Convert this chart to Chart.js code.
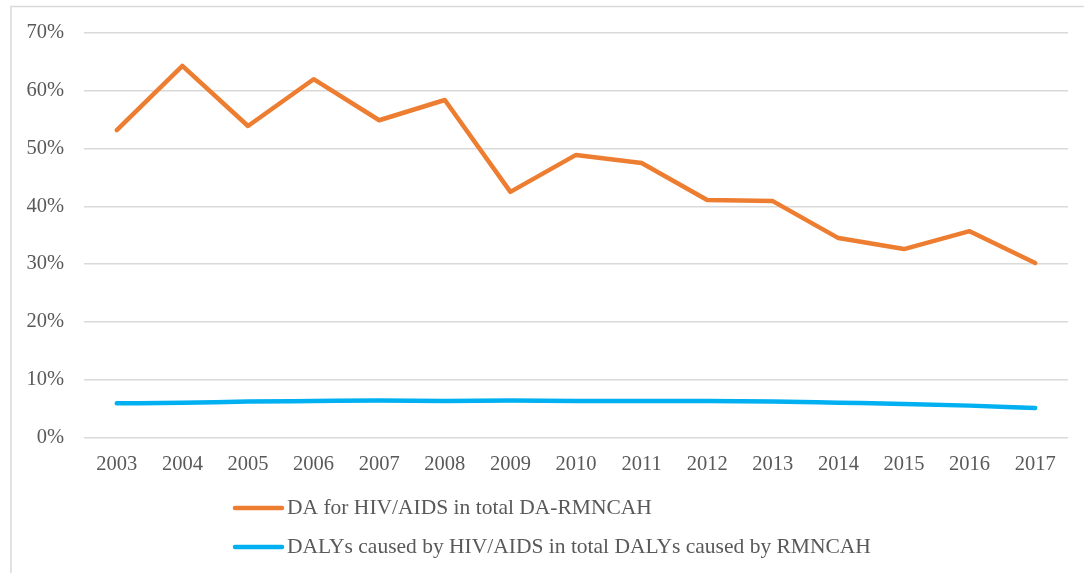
<!DOCTYPE html>
<html>
<head>
<meta charset="utf-8">
<style>
  html, body { margin: 0; padding: 0; background: #fff; }
  #wrap { width: 1084px; height: 573px; }
</style>
</head>
<body>
<div id="wrap"><canvas id="myChart" width="1084" height="573"></canvas></div>
<script src="https://cdn.jsdelivr.net/npm/chart.js@4.4.1/dist/chart.umd.min.js"></script>
<script>
    // years on the x axis
    const years = ['2003', '2004', '2005', '2006', '2007', '2008', '2009', '2010',
                   '2011', '2012', '2013', '2014', '2015', '2016', '2017']
    // share of DA for HIV/AIDS in total DA-RMNCAH (%)
    const daShare = [53.2, 64.3, 53.9, 62.0, 54.9, 58.4, 42.5, 48.9,
                     47.5, 41.1, 40.9, 34.5, 32.6, 35.7, 30.2]
    // share of DALYs caused by HIV/AIDS in total RMNCAH DALYs (%)
    const dalyShare = [5.9, 6.0, 6.2, 6.3, 6.4, 6.3, 6.4, 6.3,
                       6.3, 6.3, 6.2, 6.0, 5.8, 5.5, 5.1]
    const seriesNames = ['DA for HIV/AIDS in total DA-RMNCAH',
                         'DALYs caused by HIV/AIDS in total DALYs caused by RMNCAH']
    const yTicks = [0, 10, 20, 30, 40, 50, 60, 70]

    const textColor = '#595959'
    const fontFamily = '"Liberation Serif", "Times New Roman", serif'

    // light grey frame around the chart, like the spreadsheet export
    const framePlugin = {
        id: 'frame',
        beforeDraw(chart) {
            const c = chart.ctx
            c.save()
            c.strokeStyle = '#d9d9d9'
            c.lineWidth = 1.5
            c.strokeRect(11, 6.5, chart.width + 20, chart.height + 20)
            c.restore()
        }
    }

    // legend stacked vertically under the axis
    const stackedLegend = {
        id: 'stackedLegend',
        afterDraw(chart) {
            const c = chart.ctx
            c.save()
            c.font = '21.5px ' + fontFamily
            c.textBaseline = 'middle'
            c.textAlign = 'left'
            chart.data.datasets.forEach((ds, i) => {
                const y = 508 + i * 39
                c.strokeStyle = ds.borderColor
                c.lineWidth = 4.5
                c.lineCap = 'round'
                c.beginPath()
                c.moveTo(235, y)
                c.lineTo(282, y)
                c.stroke()
                c.fillStyle = textColor
                c.fillText(ds.label, 287, y)
            })
            c.restore()
        }
    }

    const ctx = document.getElementById('myChart')
    const myChart = new Chart(ctx, {
        type: 'line',
        data: {
            labels: years,
            datasets: [{
                label: seriesNames[0],
                data: daShare,
                borderColor: '#ED7D31',
                borderWidth: 4.5,
                borderCapStyle: 'round',
                borderJoinStyle: 'round',
                pointRadius: 0,
                tension: 0
            }, {
                label: seriesNames[1],
                data: dalyShare,
                borderColor: '#00B0F0',
                borderWidth: 4.5,
                borderCapStyle: 'round',
                pointRadius: 0,
                cubicInterpolationMode: 'monotone'
            }]
        },
        options: {
            responsive: false,
            animation: false,
            layout: {
                padding: { top: 33, right: 16, bottom: 89, left: 10 }
            },
            plugins: {
                legend: { display: false },
                tooltip: { enabled: false }
            },
            scales: {
                x: {
                    offset: true,
                    grid: { display: false },
                    border: { display: false },
                    ticks: {
                        color: textColor,
                        font: { family: fontFamily, size: 20.5 },
                        padding: 7,
                        maxRotation: 0
                    }
                },
                y: {
                    min: 0,
                    max: 70,
                    afterBuildTicks(scale) {
                        scale.ticks = yTicks.map(v => ({ value: v }))
                    },
                    afterFit(scale) { scale.width = 74 },
                    grid: { color: '#d9d9d9', lineWidth: 1.5, drawTicks: false },
                    border: { display: false },
                    ticks: {
                        color: textColor,
                        font: { family: fontFamily, size: 20.5 },
                        padding: 20,
                        callback: v => v + '%'
                    }
                }
            }
        },
        plugins: [framePlugin, stackedLegend]
    })
</script>
</body>
</html>
